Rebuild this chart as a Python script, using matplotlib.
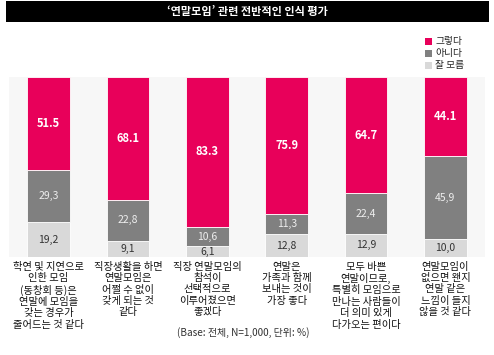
import matplotlib
matplotlib.use('Agg')
import matplotlib.pyplot as plt
from matplotlib.patches import Rectangle

plt.rcParams['font.family'] = ['Noto Sans CJK KR', 'DejaVu Sans']

# 데이터
categories = [
    "학연 및 지연으로\n인한 모임\n(동창회 등)은\n연말에 모임을\n갖는 경우가\n줄어드는 것 같다",
    "직장생활을 하면\n연말모임은\n어쩔 수 없이\n갖게 되는 것\n같다",
    "직장 연말모임의\n참석이\n선택적으로\n이루어졌으면\n좋겠다",
    "연말은\n가족과 함께\n보내는 것이\n가장 좋다",
    "모두 바쁜\n연말이므로,\n특별히 모임으로\n만나는 사람들이\n더 의미 있게\n다가오는 편이다",
    "연말모임이\n없으면 왠지\n연말 같은\n느낌이 들지\n않을 것 같다",
]
yes = [51.5, 68.1, 83.3, 75.9, 64.7, 44.1]
no = [29.3, 22.8, 10.6, 11.3, 22.4, 45.9]
dunno = [19.2, 9.1, 6.1, 12.8, 12.9, 10.0]
series_names = ['그렇다', '아니다', '잘 모름']

c_yes = '#e8005a'
c_no = '#808080'
c_dunno = '#d9d9d9'

fig = plt.figure(figsize=(4.94, 3.55), dpi=100)
ax = fig.add_axes([0.018, 0.276, 0.964, 0.507])
ax.set_facecolor('#f7f7f7')

x = list(range(len(categories)))
w = 0.54
ax.bar(x, dunno, w, color=c_dunno, edgecolor='white', linewidth=0.6)
ax.bar(x, no, w, bottom=dunno, color=c_no, edgecolor='white', linewidth=0.6)
bot3 = [d + n for d, n in zip(dunno, no)]
ax.bar(x, yes, w, bottom=bot3, color=c_yes, edgecolor='white', linewidth=0.6)

for i in x:
    ax.text(i, dunno[i] / 2, f"{dunno[i]:.1f}".replace('.', ','), ha='center', va='center',
            fontsize=7.5, color='#333333')
    ax.text(i, dunno[i] + no[i] / 2, f"{no[i]:.1f}".replace('.', ','), ha='center', va='center',
            fontsize=7.5, color='#eeeeee')
    ax.text(i, bot3[i] + yes[i] / 2, f"{yes[i]:.1f}", ha='center', va='center',
            fontsize=8, color='white', fontweight='bold')
    ax.text(i, -2.5, categories[i], ha='center', va='top', fontsize=7.4,
            color='#111111', linespacing=1.17)

ax.set_xlim(-0.5, 5.5)
ax.set_ylim(0, 100)
ax.set_xticks([])
ax.set_yticks([])
for s in ax.spines.values():
    s.set_visible(False)

# 제목 바
fig.patches.append(Rectangle((0.012, 0.938), 0.978, 0.058, transform=fig.transFigure,
                             facecolor='black', edgecolor='none'))
fig.text(0.5, 0.967, "‘연말모임’ 관련 전반적인 인식 평가", ha='center', va='center',
         color='white', fontsize=8, fontweight='bold')

# 범례
leg_colors = [c_yes, c_no, c_dunno]
for k, (nm, cc) in enumerate(zip(series_names, leg_colors)):
    yy = 1 - (41 + 12 * k) / 355
    fig.patches.append(Rectangle((425 / 494, yy - 0.01), 7 / 494, 7 / 355,
                                 transform=fig.transFigure, facecolor=cc, edgecolor='none'))
    fig.text(435 / 494, yy, nm, ha='left', va='center', fontsize=7, color='#222222')

fig.text(177 / 494, 1 - 333 / 355, "(Base: 전체, N=1,000, 단위: %)", ha='left', va='center',
         fontsize=7.2, color='#333333')

fig.savefig('out.png', dpi=100)
